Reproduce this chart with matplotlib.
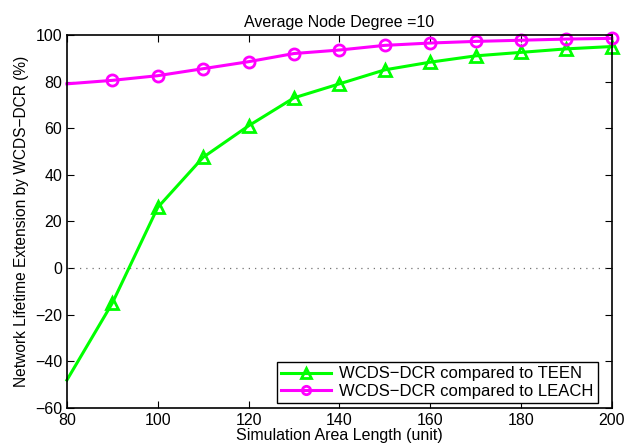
import numpy as np
import matplotlib
matplotlib.use('Agg')
import matplotlib.pyplot as plt

# simulation area length (unit)
area = [80, 90, 100, 110, 120, 130, 140, 150, 160, 170, 180, 190, 200]

# lifetime extension (%) of WCDS-DCR
teen = [-48, -15, 26, 47.5, 61, 73, 79, 85, 88.3, 91, 92.5, 94, 95]
leach = [79, 80.5, 82.5, 85.5, 88.5, 92, 93.5, 95.5, 96.5, 97.2, 97.7, 98.2, 98.5]

xticks = [80, 100, 120, 140, 160, 180, 200]
yticks = [-60, -40, -20, 0, 20, 40, 60, 80, 100]


def main():
    plt.rcParams['font.family'] = ['Liberation Sans', 'DejaVu Sans']
    plt.rcParams['font.size'] = 11.5

    fig = plt.figure(figsize=(6.25, 4.47), dpi=100)
    ax = fig.add_axes([0.107, 0.087, 0.872, 0.835])

    ax.axhline(0, color='0.45', linestyle=(0, (1, 4)), linewidth=0.9)

    ax.plot(area, teen, '-', color='#00ff00', linewidth=2.2, marker='^',
            markersize=9, markerfacecolor='none', markeredgewidth=2,
            markevery=slice(1, None), clip_on=False,
            label='WCDS\u2212DCR compared to TEEN')
    ax.plot(area, leach, '-', color='#ff00ff', linewidth=2.2, marker='o',
            markersize=8, markerfacecolor='none', markeredgewidth=2,
            markevery=slice(1, None), clip_on=False,
            label='WCDS\u2212DCR compared to LEACH')

    ax.set_xlim(80, 200)
    ax.set_ylim(-60, 100)
    ax.set_xticks(xticks)
    ax.set_yticks(yticks)
    ax.tick_params(direction='in', top=True, right=True, length=5, labelsize=11.5)
    for sp in ax.spines.values():
        sp.set_linewidth(1.2)

    ax.set_title('Average Node Degree =10', fontsize=11.5, pad=6)
    ax.set_xlabel('Simulation Area Length (unit)', fontsize=11.5, labelpad=0)
    ax.set_ylabel('Network Lifetime Extension by WCDS\u2212DCR (%)', fontsize=11.2, labelpad=4)

    leg = ax.legend(loc='lower right', fontsize=12, fancybox=False,
                    edgecolor='black', framealpha=1, handlelength=3.0,
                    markerscale=0.75, borderpad=0.25, labelspacing=0.15,
                    handletextpad=0.5, borderaxespad=0.3)
    leg.get_frame().set_linewidth(1.0)
    leg.set_bbox_to_anchor((0.983, 0.0), transform=ax.transAxes)

    fig.savefig('out.png', dpi=100)


if __name__ == '__main__':
    main()
